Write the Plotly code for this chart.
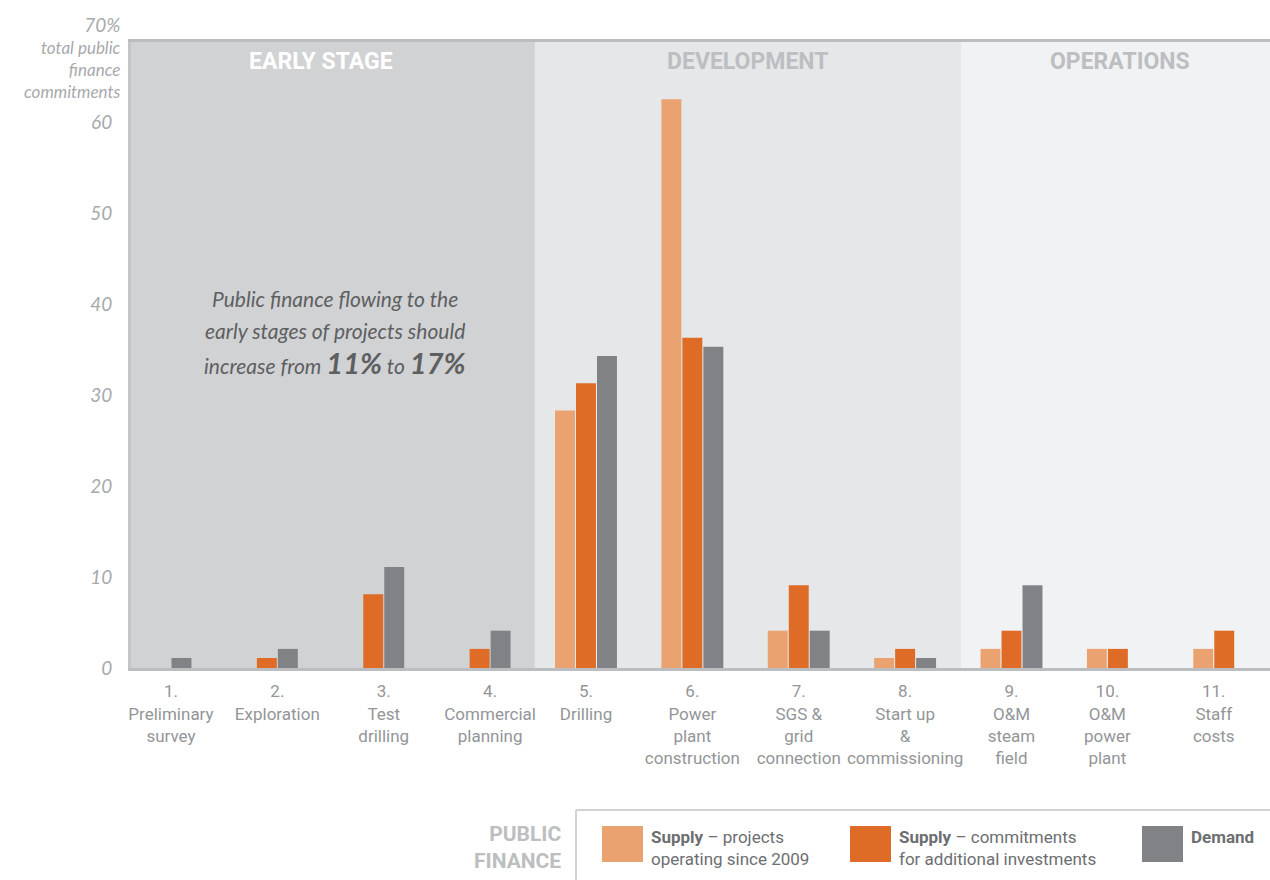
import plotly.graph_objects as go

categories = [
    "1.<br>Preliminary<br>survey",
    "2.<br>Exploration",
    "3.<br>Test<br>drilling",
    "4.<br>Commercial<br>planning",
    "5.<br>Drilling",
    "6.<br>Power<br>plant<br>construction",
    "7.<br>SGS &<br>grid<br>connection",
    "8.<br>Start up<br>&<br>commissioning",
    "9.<br>O&M<br>steam<br>field",
    "10.<br>O&M<br>power<br>plant",
    "11.<br>Staff<br>costs",
]
supply_existing = [None, None, None, None, 28.3, 62.5, 4.1, 1.1, 2.1, 2.1, 2.1]
supply_additional = [0, 1.1, 8.1, 2.1, 31.3, 36.3, 9.1, 2.1, 4.1, 2.1, 4.1]
demand = [1.1, 2.1, 11.1, 4.1, 34.3, 35.3, 4.1, 1.1, 9.1, None, None]

stages = ["EARLY STAGE", "DEVELOPMENT", "OPERATIONS"]
stage_edges = [-0.277, 3.52, 7.53, 10.43]

C_LIGHT = "#EBA271"
C_DARK = "#DE6B26"
C_GRAY = "#808285"

W, H = 1270, 880
L, T, R, B = 131, 42, 1270, 668
BARGAP = 0.408
COND = "Roboto, Liberation Sans Narrow, sans-serif"
ITAL = "Lato, Open Sans, sans-serif"


def px_x(p):
    return (p - L) / (R - L)


def px_y(p):
    return (B - p) / (B - T)


x = list(range(len(categories)))
fig = go.Figure()
for vals, color, name in [
    (supply_existing, C_LIGHT, "Supply - projects operating since 2009"),
    (supply_additional, C_DARK, "Supply - commitments for additional investments"),
    (demand, C_GRAY, "Demand"),
]:
    fig.add_trace(go.Bar(x=x, y=vals, marker_color=color, marker_line_width=0,
                         name=name, showlegend=False))

# labels sit under the bars that are actually present in each group
slot = (1 - BARGAP) / 3
tickvals = []
for i in x:
    offs = [o for o, s in zip((-slot, 0, slot), (supply_existing, supply_additional, demand))
            if s[i] is not None]
    tickvals.append(i + sum(offs) / len(offs))

stage_fill = ["#D1D2D4", "#E6E7E9", "#F1F2F4"]
stage_font = ["#FFFFFF", "#BDBEC1", "#BDBEC1"]
stage_x = [1.51, 5.52, 9.02]
for k, name in enumerate(stages):
    fig.add_vrect(x0=stage_edges[k], x1=stage_edges[k + 1], fillcolor=stage_fill[k],
                  line_width=0, layer="below")
    fig.add_annotation(x=stage_x[k], y=px_y(62), yref="paper", yanchor="middle",
                       text=f"<b>{name}</b>", showarrow=False,
                       font=dict(family=COND, size=23, color=stage_font[k]))

note_lines = [
    (299, "Public finance flowing to the"),
    (330, "early stages of projects should"),
    (362, "increase from <span style='font-size:29px'><b>11%</b></span> to "
          "<span style='font-size:29px'><b>17%</b></span>"),
]
for py, line in note_lines:
    fig.add_annotation(x=1.64, y=px_y(py), yref="paper", yanchor="middle", showarrow=False,
                       text=line,
                       font=dict(family=ITAL, size=21, color="#5E5F61", style="italic"))

fig.add_annotation(
    x=px_x(123), y=px_y(11), xref="paper", yref="paper", xanchor="right", yanchor="top",
    showarrow=False, align="right",
    text="<span style='font-size:19px'>70%</span><br>total public<br>finance<br>commitments",
    font=dict(family=ITAL, size=17, color="#A7A9AC", style="italic"),
)

# legend box at the bottom
fig.add_shape(type="line", xref="paper", yref="paper", x0=px_x(576), x1=px_x(1270),
              y0=px_y(810), y1=px_y(810), line=dict(color="#D1D2D4", width=2))
fig.add_shape(type="line", xref="paper", yref="paper", x0=px_x(576), x1=px_x(576),
              y0=px_y(810), y1=px_y(880), line=dict(color="#D1D2D4", width=2))
fig.add_annotation(x=px_x(563), y=px_y(847), xref="paper", yref="paper", xanchor="right",
                   yanchor="middle", showarrow=False, align="right",
                   text="<b>PUBLIC<br>FINANCE</b>",
                   font=dict(family=COND, size=21, color="#BCBEC0"))
legend_items = [
    (602, C_LIGHT, "<b>Supply</b> – projects<br>operating since 2009"),
    (850, C_DARK, "<b>Supply</b> – commitments<br>for additional investments"),
    (1142, C_GRAY, "<b>Demand</b>"),
]
for x0, color, label in legend_items:
    fig.add_shape(type="rect", xref="paper", yref="paper", x0=px_x(x0), x1=px_x(x0 + 41),
                  y0=px_y(826), y1=px_y(862), fillcolor=color, line_width=0)
    fig.add_annotation(x=px_x(x0 + 47), y=px_y(825), xref="paper", yref="paper",
                       xanchor="left", yanchor="top", showarrow=False, align="left",
                       text=label, font=dict(family=COND, size=17, color="#6D6E71"))

fig.update_layout(
    width=W, height=H,
    margin=dict(l=L, r=W - R, t=T, b=H - B, autoexpand=False),
    plot_bgcolor="white", paper_bgcolor="white",
    barmode="group", bargap=BARGAP, bargroupgap=0.05,
    showlegend=False,
)
fig.update_xaxes(
    range=[stage_edges[0], stage_edges[-1]],
    tickvals=tickvals, ticktext=categories, tickangle=0,
    showgrid=False, zeroline=False,
    showline=True, linecolor="#BCBDC0", linewidth=3, mirror=True,
    ticks="outside", ticklen=6, tickcolor="rgba(0,0,0,0)",
    tickfont=dict(family=COND, size=17, color="#939598"),
)
fig.update_yaxes(
    range=[0, 68.8], tickvals=[0, 10, 20, 30, 40, 50, 60],
    showgrid=False, zeroline=False,
    showline=True, linecolor="#C4C5C8", linewidth=3,
    ticks="outside", ticklen=12, tickcolor="rgba(0,0,0,0)",
    tickfont=dict(family=ITAL, size=19, color="#A7A9AC", style="italic"),
)

fig.write_html("out.html", config={"displayModeBar": False},
               post_script="document.body.style.margin='0';")
